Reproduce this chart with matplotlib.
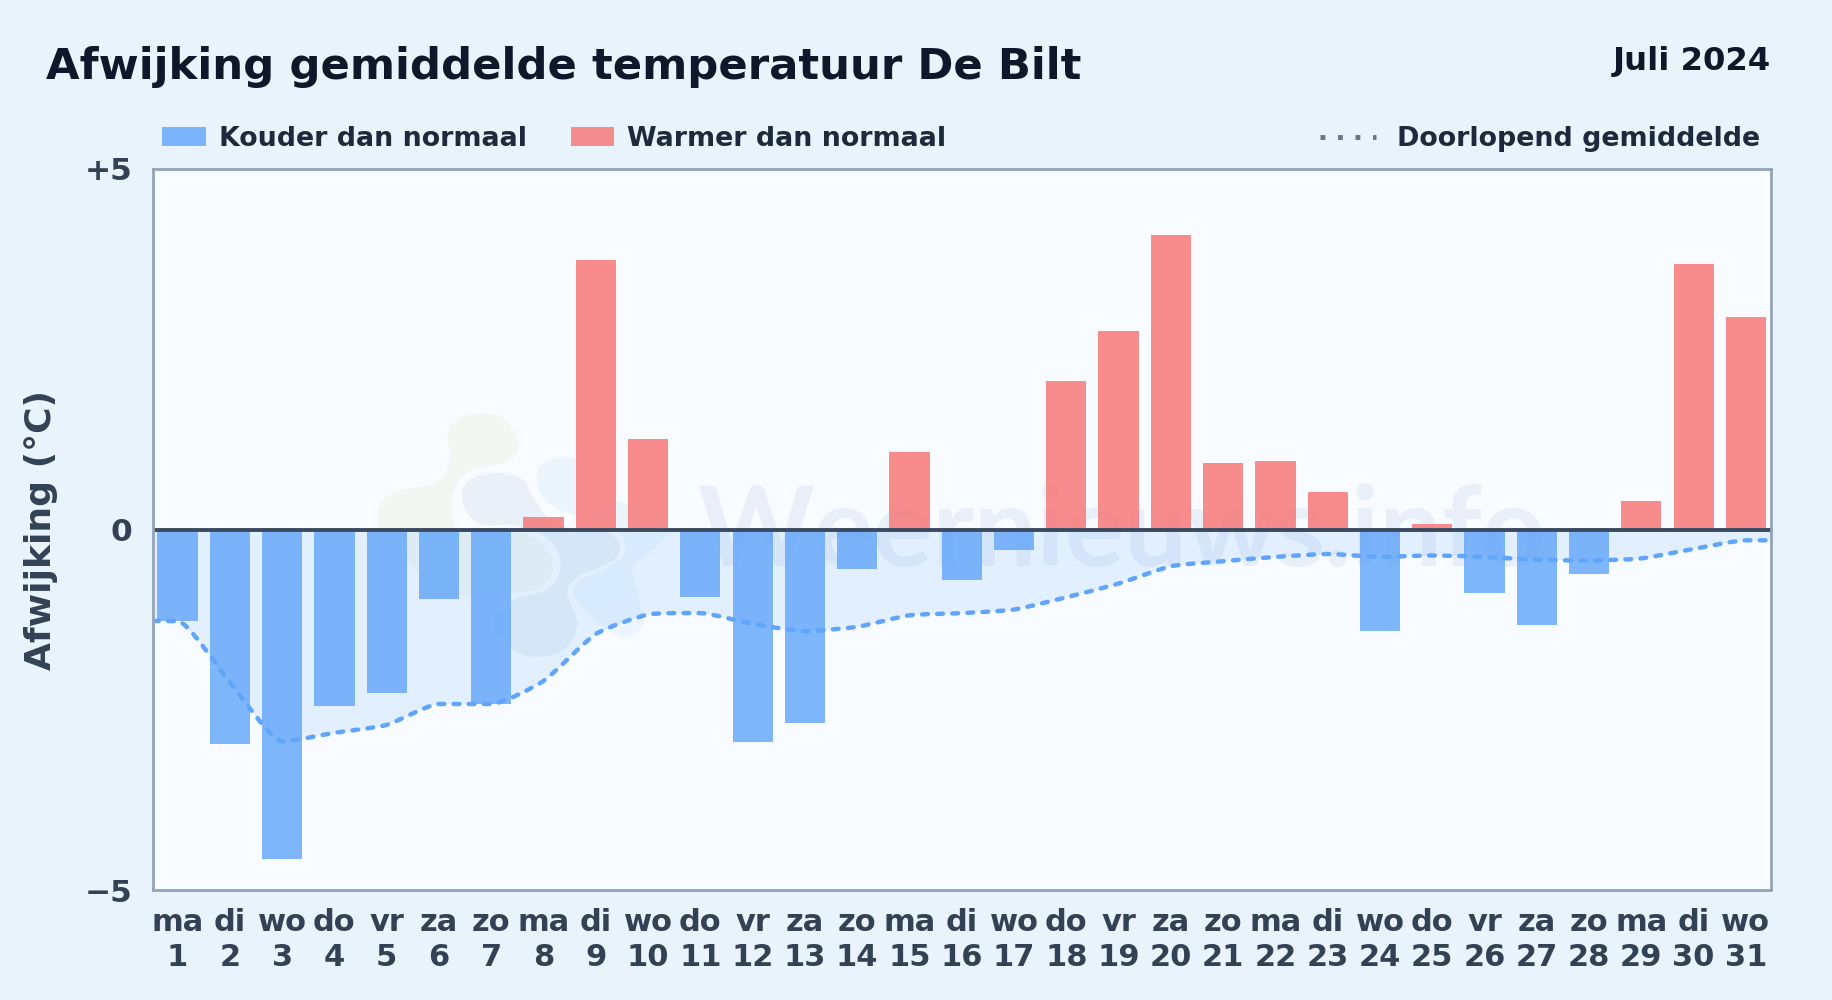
"""
Afwijking gemiddelde temperatuur De Bilt, juli 2024.
"""

import numpy as np
import matplotlib
matplotlib.use("Agg")
import matplotlib.pyplot as plt
from matplotlib.lines import Line2D
from matplotlib.patches import Patch, PathPatch
from matplotlib.path import Path
from matplotlib.transforms import IdentityTransform

plt.rcParams["font.family"] = ["DejaVu Sans"]
plt.rcParams["font.weight"] = "bold"
plt.rcParams["axes.labelweight"] = "bold"

W, H = 1832, 1000

# ── Data ─────────────────────────────────────────────────────────────────────

days = list(range(1, 32))
weekdays = ["ma", "di", "wo", "do", "vr", "za", "zo"] * 4 + ["ma", "di", "wo"]
deviation = [
    -1.27, -2.98, -4.57, -2.45, -2.27, -0.97, -2.42, 0.18, 3.74, 1.25, -0.94,
    -2.95, -2.68, -0.55, 1.08, -0.70, -0.28, 2.06, 2.75, 4.08, 0.92, 0.95,
    0.52, -1.41, 0.08, -0.88, -1.33, -0.62, 0.40, 3.68, 2.95,
]
running_mean = [
    -1.27, -2.12, -2.94, -2.82, -2.71, -2.42, -2.42, -2.10, -1.45, -1.18, -1.16,
    -1.31, -1.41, -1.35, -1.19, -1.16, -1.11, -0.94, -0.75, -0.51, -0.44, -0.38,
    -0.34, -0.38, -0.36, -0.38, -0.42, -0.43, -0.40, -0.27, -0.15,
]
y_ticks = [-5, 0, 5]
y_tick_labels = ["\u22125", "0", "+5"]

# ── Colours ──────────────────────────────────────────────────────────────────

BG = "#e8f3fc"
PANEL = "#f8fbff"
BLUE = "#60a5fa"
RED = "#f87171"
INK = "#0f172a"
LABEL = "#334155"
LEGEND_TEXT = "#1e293b"
SPINE = "#94a3b8"

# watermark logo outlines, pixels in the picture (x, y from top)
LOGO_GREEN = [
    (448, 433), (460, 418), (483, 413), (503, 418), (517, 437), (517, 453), (503, 463),
    (477, 468), (462, 476), (452, 500), (456, 528), (482, 534), (508, 530), (540, 542),
    (553, 567), (540, 587), (513, 593), (480, 597), (440, 590), (410, 565), (383, 535),
    (378, 517), (383, 500), (403, 490), (437, 482), (450, 460),
]
LOGO_SLATE = [
    (462, 493), (473, 478), (500, 473), (523, 480), (533, 497), (547, 517), (567, 527),
    (600, 530), (618, 540), (617, 557), (600, 567), (577, 577), (567, 593), (577, 623),
    (567, 647), (540, 657), (513, 650), (493, 623), (513, 600), (547, 590), (560, 570),
    (557, 550), (540, 533), (510, 525), (483, 525), (467, 513),
]
LOGO_LIGHT = [
    (537, 473), (550, 460), (573, 458), (593, 470), (607, 497), (627, 503), (660, 517),
    (668, 533), (653, 550), (633, 567), (637, 590), (643, 623), (627, 637), (607, 630),
    (583, 607), (573, 593), (580, 580), (603, 570), (623, 557), (623, 537), (603, 520),
    (567, 513), (543, 497),
]


# ── Helpers ──────────────────────────────────────────────────────────────────

def smooth_vertices(x, y, reach=0.2):
    # cubic bezier pieces through the given points, no overshoot at turning points
    x = np.asarray(x, dtype=float)
    y = np.asarray(y, dtype=float)
    slope = np.zeros(len(x))
    slope[1:-1] = (y[2:] - y[:-2]) / (x[2:] - x[:-2])
    steps = np.diff(y)
    slope[1:-1][steps[:-1] * steps[1:] <= 0] = 0
    verts = [(x[0], y[0])]
    for i in range(len(x) - 1):
        dx = (x[i + 1] - x[i]) * reach
        verts.append((x[i] + dx, y[i] + slope[i] * dx))
        verts.append((x[i + 1] - dx, y[i + 1] - slope[i + 1] * dx))
        verts.append((x[i + 1], y[i + 1]))
    return verts


def blob_path(points):
    # closed catmull-rom outline, points given in picture pixels
    pts = np.array([(px, H - py) for px, py in points], dtype=float)
    n = len(pts)
    verts = [tuple(pts[0])]
    codes = [Path.MOVETO]
    for i in range(n):
        p0, p1, p2, p3 = pts[i - 1], pts[i], pts[(i + 1) % n], pts[(i + 2) % n]
        verts += [tuple(p1 + (p2 - p0) / 6), tuple(p2 - (p3 - p1) / 6), tuple(p2)]
        codes += [Path.CURVE4] * 3
    return Path(verts, codes)


# ── Figure ───────────────────────────────────────────────────────────────────

fig = plt.figure(figsize=(W / 100, H / 100), dpi=100, facecolor=BG)
ax = fig.add_axes([153 / W, 1 - 890 / H, (1771 - 153) / W, (890 - 169) / H], facecolor=PANEL)

x_min, x_max = 0.53, 31.48
ax.set_xlim(x_min, x_max)
ax.set_ylim(-5, 5)

# watermark
for outline, colour, alpha in [
    (LOGO_GREEN, "#a3c94a", 0.07),
    (LOGO_SLATE, "#3f6fa8", 0.08),
    (LOGO_LIGHT, "#60b0fa", 0.08),
]:
    ax.add_patch(PathPatch(blob_path(outline), transform=IdentityTransform(), facecolor=colour,
                           edgecolor="none", alpha=alpha, zorder=1))
ax.text(697 / W, 1 - 566 / H, "Weernieuws.info", transform=fig.transFigure, fontsize=80,
        family="Lato", fontweight="bold", color="#4a7ab0", alpha=0.085, ha="left", va="baseline",
        zorder=1)

# running mean, the ends run flat to the edge of the panel
line_x = [x_min] + days + [x_max]
line_y = [running_mean[0]] + running_mean + [running_mean[-1]]
curve = smooth_vertices(line_x, line_y)
curve_codes = [Path.MOVETO] + [Path.CURVE4] * (len(curve) - 1)

area_verts = curve + [(x_max, 0), (x_min, 0), curve[0]]
area_codes = curve_codes + [Path.LINETO, Path.LINETO, Path.CLOSEPOLY]
ax.add_patch(PathPatch(Path(area_verts, area_codes), facecolor="#93c5fd", edgecolor="none",
                       alpha=0.22, zorder=2))

# bars
bar_colours = [RED if v > 0 else BLUE for v in deviation]
ax.bar(days, deviation, width=0.77, color=bar_colours, alpha=0.8, linewidth=0, zorder=3)

ax.add_patch(PathPatch(Path(curve, curve_codes), facecolor="none", edgecolor=BLUE, linewidth=3.2,
                       linestyle=(0, (1.3, 2.1)), capstyle="round", zorder=4))

ax.axhline(0, color="#3a4a60", linewidth=2.8, zorder=5)

# axes
ax.set_xticks(days)
ax.set_xticklabels([f"{w}\n{d}" for w, d in zip(weekdays, days)], fontsize=22, color=LABEL,
                   linespacing=1.25)
ax.set_yticks(y_ticks)
ax.set_yticklabels(y_tick_labels, fontsize=22.5, color=LABEL)
ax.tick_params(axis="x", length=0, pad=13)
ax.tick_params(axis="y", length=0, pad=15)
ax.set_ylabel("Afwijking (\u00b0C)", fontsize=26, color=LABEL)
ax.yaxis.set_label_coords((58 - 153) / (1771 - 153), 0.5)
for spine in ax.spines.values():
    spine.set_color(SPINE)
    spine.set_linewidth(2)
    spine.set_zorder(6)

# titles
fig.text(46 / W, 1 - 79 / H, "Afwijking gemiddelde temperatuur De Bilt", fontsize=31.2, color=INK,
         ha="left", va="baseline")
fig.text(1771 / W, 1 - 70 / H, "Juli 2024", fontsize=23.2, color=INK, ha="right", va="baseline")

# legends
fig.legend(
    handles=[Patch(facecolor=BLUE, alpha=0.8, label="Kouder dan normaal"),
             Patch(facecolor=RED, alpha=0.8, label="Warmer dan normaal")],
    loc="center left", bbox_to_anchor=(162 / W, 1 - 139 / H), ncol=2, frameon=False, fontsize=19.4,
    labelcolor=LEGEND_TEXT, borderpad=0, borderaxespad=0, handlelength=1.63, handleheight=0.72,
    handletextpad=0.48, columnspacing=1.62,
)
fig.legend(
    handles=[Line2D([], [], color="#64748b", linewidth=3.5, linestyle=(0, (1, 2.6)),
                    dash_capstyle="butt", label="Doorlopend gemiddelde")],
    loc="center right", bbox_to_anchor=(1760 / W, 1 - 139 / H), frameon=False, fontsize=19.4,
    labelcolor=LEGEND_TEXT, borderpad=0, borderaxespad=0, handlelength=2.06, handletextpad=0.78,
)

fig.savefig("out.png", dpi=100, facecolor=BG)
